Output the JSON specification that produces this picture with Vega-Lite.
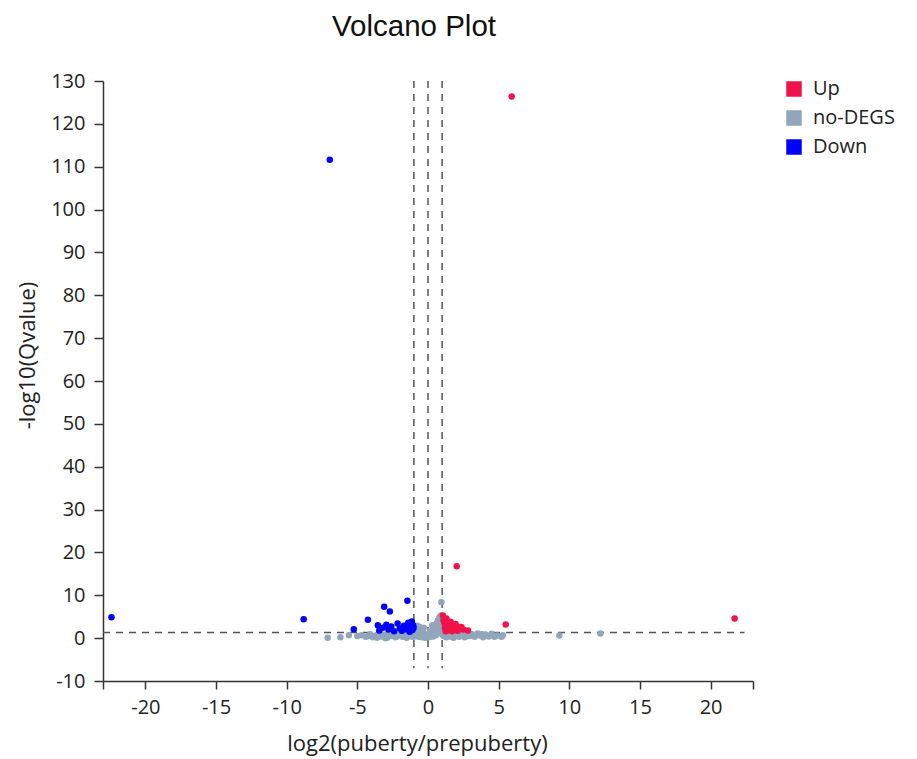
{
  "$schema": "https://vega.github.io/schema/vega-lite/v6.json",
  "width": 650,
  "height": 600,
  "autosize": "none",
  "padding": {"left": 103, "top": 81, "right": 164, "bottom": 78},
  "background": "white",
  "title": {"text": "Volcano Plot", "font": "Liberation Sans", "fontSize": 29.5, "fontWeight": "normal", "color": "#111", "anchor": "middle", "dx": -14, "baseline": "alphabetic", "offset": 6},
  "config": {"view": {"stroke": null}, "font": "Open Sans"},
  "datasets": {
    "pts": [
      {"x": -7.1, "y": 0.1, "g": "no-DEGS"}, {"x": -6.2, "y": 0.2, "g": "no-DEGS"}, {"x": -5.6, "y": 0.7, "g": "no-DEGS"}, {"x": -5.0, "y": 0.5, "g": "no-DEGS"},
      {"x": -4.7, "y": 0.7, "g": "no-DEGS"}, {"x": -4.4, "y": 0.3, "g": "no-DEGS"}, {"x": -4.2, "y": 0.5, "g": "no-DEGS"}, {"x": -4.1, "y": 0.9, "g": "no-DEGS"},
      {"x": -3.9, "y": 0.2, "g": "no-DEGS"}, {"x": -3.7, "y": 0.6, "g": "no-DEGS"}, {"x": -3.6, "y": 0.1, "g": "no-DEGS"}, {"x": -3.5, "y": 1.0, "g": "no-DEGS"},
      {"x": -3.3, "y": 0.4, "g": "no-DEGS"}, {"x": -3.1, "y": 0.8, "g": "no-DEGS"}, {"x": -3.0, "y": 0.0, "g": "no-DEGS"}, {"x": -2.9, "y": 0.1, "g": "no-DEGS"},
      {"x": -2.8, "y": 1.1, "g": "no-DEGS"}, {"x": -2.6, "y": 0.5, "g": "no-DEGS"}, {"x": -2.4, "y": 0.9, "g": "no-DEGS"}, {"x": -2.3, "y": 0.2, "g": "no-DEGS"},
      {"x": -2.2, "y": 0.4, "g": "no-DEGS"}, {"x": -2.1, "y": 1.2, "g": "no-DEGS"}, {"x": -2.0, "y": 0.6, "g": "no-DEGS"}, {"x": -1.9, "y": 0.8, "g": "no-DEGS"},
      {"x": -1.8, "y": 0.3, "g": "no-DEGS"}, {"x": -1.7, "y": 1.0, "g": "no-DEGS"}, {"x": -1.6, "y": 0.7, "g": "no-DEGS"}, {"x": -1.5, "y": 0.1, "g": "no-DEGS"},
      {"x": -1.4, "y": 1.2, "g": "no-DEGS"}, {"x": -1.3, "y": 0.5, "g": "no-DEGS"}, {"x": -1.2, "y": 0.9, "g": "no-DEGS"}, {"x": -1.1, "y": 0.3, "g": "no-DEGS"},
      {"x": -1.05, "y": 1.1, "g": "no-DEGS"}, {"x": -1.0, "y": 0.6, "g": "no-DEGS"}, {"x": -0.95, "y": 0.4, "g": "no-DEGS"}, {"x": -0.9, "y": 1.5, "g": "no-DEGS"},
      {"x": -0.85, "y": 2.2, "g": "no-DEGS"}, {"x": -0.8, "y": 0.8, "g": "no-DEGS"}, {"x": -0.75, "y": 2.9, "g": "no-DEGS"}, {"x": -0.7, "y": 1.2, "g": "no-DEGS"},
      {"x": -0.65, "y": 0.3, "g": "no-DEGS"}, {"x": -0.6, "y": 1.8, "g": "no-DEGS"}, {"x": -0.6, "y": 2.6, "g": "no-DEGS"}, {"x": -0.55, "y": 0.6, "g": "no-DEGS"},
      {"x": -0.5, "y": 1.0, "g": "no-DEGS"}, {"x": -0.45, "y": 0.2, "g": "no-DEGS"}, {"x": -0.4, "y": 0.7, "g": "no-DEGS"}, {"x": -0.35, "y": 1.4, "g": "no-DEGS"},
      {"x": -0.3, "y": 0.4, "g": "no-DEGS"}, {"x": -0.3, "y": 2.4, "g": "no-DEGS"}, {"x": -0.25, "y": 0.9, "g": "no-DEGS"}, {"x": -0.2, "y": 0.1, "g": "no-DEGS"},
      {"x": -0.15, "y": 0.6, "g": "no-DEGS"}, {"x": -0.1, "y": 0.3, "g": "no-DEGS"}, {"x": -0.05, "y": 0.8, "g": "no-DEGS"}, {"x": 0.0, "y": 0.2, "g": "no-DEGS"},
      {"x": 0.05, "y": 0.5, "g": "no-DEGS"}, {"x": 0.1, "y": 0.9, "g": "no-DEGS"}, {"x": 0.15, "y": 0.3, "g": "no-DEGS"}, {"x": 0.15, "y": 1.7, "g": "no-DEGS"},
      {"x": 0.2, "y": 1.3, "g": "no-DEGS"}, {"x": 0.25, "y": 0.6, "g": "no-DEGS"}, {"x": 0.3, "y": 1.8, "g": "no-DEGS"}, {"x": 0.3, "y": 3.0, "g": "no-DEGS"},
      {"x": 0.35, "y": 0.4, "g": "no-DEGS"}, {"x": 0.4, "y": 2.3, "g": "no-DEGS"}, {"x": 0.45, "y": 1.1, "g": "no-DEGS"}, {"x": 0.5, "y": 2.8, "g": "no-DEGS"},
      {"x": 0.5, "y": 1.5, "g": "no-DEGS"}, {"x": 0.55, "y": 0.7, "g": "no-DEGS"}, {"x": 0.6, "y": 3.4, "g": "no-DEGS"}, {"x": 0.65, "y": 1.6, "g": "no-DEGS"},
      {"x": 0.7, "y": 4.1, "g": "no-DEGS"}, {"x": 0.75, "y": 2.5, "g": "no-DEGS"}, {"x": 0.8, "y": 4.8, "g": "no-DEGS"}, {"x": 0.85, "y": 3.3, "g": "no-DEGS"},
      {"x": 0.9, "y": 5.3, "g": "no-DEGS"}, {"x": 0.92, "y": 2.0, "g": "no-DEGS"}, {"x": 0.95, "y": 8.4, "g": "no-DEGS"}, {"x": 0.97, "y": 4.0, "g": "no-DEGS"},
      {"x": 1.0, "y": 0.9, "g": "no-DEGS"}, {"x": 1.1, "y": 0.5, "g": "no-DEGS"}, {"x": 1.2, "y": 1.0, "g": "no-DEGS"}, {"x": 1.3, "y": 0.2, "g": "no-DEGS"},
      {"x": 1.4, "y": 0.8, "g": "no-DEGS"}, {"x": 1.5, "y": 1.2, "g": "no-DEGS"}, {"x": 1.5, "y": 0.5, "g": "no-DEGS"}, {"x": 1.6, "y": 0.4, "g": "no-DEGS"},
      {"x": 1.7, "y": 0.9, "g": "no-DEGS"}, {"x": 1.8, "y": 0.1, "g": "no-DEGS"}, {"x": 1.9, "y": 1.1, "g": "no-DEGS"}, {"x": 2.0, "y": 0.6, "g": "no-DEGS"},
      {"x": 2.1, "y": 1.2, "g": "no-DEGS"}, {"x": 2.2, "y": 0.3, "g": "no-DEGS"}, {"x": 2.3, "y": 1.0, "g": "no-DEGS"}, {"x": 2.5, "y": 0.7, "g": "no-DEGS"},
      {"x": 2.6, "y": 0.2, "g": "no-DEGS"}, {"x": 2.7, "y": 0.8, "g": "no-DEGS"}, {"x": 2.8, "y": 1.2, "g": "no-DEGS"}, {"x": 2.9, "y": 0.5, "g": "no-DEGS"},
      {"x": 3.1, "y": 0.9, "g": "no-DEGS"}, {"x": 3.2, "y": 0.5, "g": "no-DEGS"}, {"x": 3.3, "y": 0.3, "g": "no-DEGS"}, {"x": 3.5, "y": 1.1, "g": "no-DEGS"},
      {"x": 3.7, "y": 0.6, "g": "no-DEGS"}, {"x": 3.8, "y": 0.9, "g": "no-DEGS"}, {"x": 3.9, "y": 0.2, "g": "no-DEGS"}, {"x": 4.1, "y": 0.8, "g": "no-DEGS"},
      {"x": 4.3, "y": 0.4, "g": "no-DEGS"}, {"x": 4.5, "y": 1.0, "g": "no-DEGS"}, {"x": 4.7, "y": 0.3, "g": "no-DEGS"}, {"x": 4.9, "y": 0.6, "g": "no-DEGS"},
      {"x": 5.2, "y": 0.3, "g": "no-DEGS"}, {"x": 5.3, "y": 0.7, "g": "no-DEGS"}, {"x": 9.3, "y": 0.6, "g": "no-DEGS"}, {"x": 12.2, "y": 1.1, "g": "no-DEGS"},
      {"x": -22.4, "y": 4.9, "g": "Down"}, {"x": -8.8, "y": 4.4, "g": "Down"}, {"x": -6.95, "y": 111.6, "g": "Down"}, {"x": -5.25, "y": 2.1, "g": "Down"},
      {"x": -4.25, "y": 4.3, "g": "Down"}, {"x": -3.1, "y": 7.3, "g": "Down"}, {"x": -2.7, "y": 6.2, "g": "Down"}, {"x": -1.46, "y": 8.7, "g": "Down"},
      {"x": -3.55, "y": 3.0, "g": "Down"}, {"x": -3.45, "y": 1.8, "g": "Down"}, {"x": -3.2, "y": 2.4, "g": "Down"}, {"x": -2.95, "y": 3.1, "g": "Down"},
      {"x": -2.8, "y": 2.0, "g": "Down"}, {"x": -2.6, "y": 2.7, "g": "Down"}, {"x": -2.4, "y": 1.6, "g": "Down"}, {"x": -2.15, "y": 3.4, "g": "Down"},
      {"x": -2.0, "y": 2.3, "g": "Down"}, {"x": -1.85, "y": 1.7, "g": "Down"}, {"x": -1.7, "y": 2.9, "g": "Down"}, {"x": -1.55, "y": 2.1, "g": "Down"},
      {"x": -1.4, "y": 3.6, "g": "Down"}, {"x": -1.3, "y": 1.5, "g": "Down"}, {"x": -1.25, "y": 2.6, "g": "Down"}, {"x": -1.15, "y": 3.9, "g": "Down"},
      {"x": -1.1, "y": 1.9, "g": "Down"}, {"x": -1.05, "y": 3.0, "g": "Down"}, {"x": -1.02, "y": 2.4, "g": "Down"}, {"x": -1.2, "y": 3.3, "g": "Down"},
      {"x": 5.92, "y": 126.4, "g": "Up"}, {"x": 2.03, "y": 16.8, "g": "Up"}, {"x": 21.7, "y": 4.6, "g": "Up"}, {"x": 5.5, "y": 3.2, "g": "Up"},
      {"x": 1.05, "y": 5.3, "g": "Up"}, {"x": 1.1, "y": 4.2, "g": "Up"}, {"x": 1.15, "y": 3.6, "g": "Up"}, {"x": 1.2, "y": 2.5, "g": "Up"},
      {"x": 1.3, "y": 4.6, "g": "Up"}, {"x": 1.35, "y": 1.8, "g": "Up"}, {"x": 1.45, "y": 3.1, "g": "Up"}, {"x": 1.5, "y": 2.3, "g": "Up"},
      {"x": 1.6, "y": 3.8, "g": "Up"}, {"x": 1.7, "y": 1.6, "g": "Up"}, {"x": 1.75, "y": 2.8, "g": "Up"}, {"x": 1.85, "y": 2.2, "g": "Up"},
      {"x": 1.95, "y": 3.3, "g": "Up"}, {"x": 2.1, "y": 1.7, "g": "Up"}, {"x": 2.2, "y": 2.6, "g": "Up"}, {"x": 2.36, "y": 2.6, "g": "Up"},
      {"x": 2.5, "y": 2.0, "g": "Up"}, {"x": 2.83, "y": 1.8, "g": "Up"}, {"x": 1.25, "y": 1.6, "g": "Up"}, {"x": 1.4, "y": 2.0, "g": "Up"}
    ],
    "vlines": [{"v": -1}, {"v": 0}, {"v": 1}],
    "hline": [{"x1": -23, "x2": 22.4, "h": 1.3}]
  },
  "layer": [
    {
      "data": {"name": "vlines"},
      "mark": {"type": "rule", "color": "#555", "strokeWidth": 1.5, "strokeDash": [7, 6]},
      "encoding": {
        "x": {"field": "v", "type": "quantitative", "scale": {"domain": [-23, 23]}},
        "y": {"datum": 130, "type": "quantitative", "scale": {"domain": [-10, 130]}},
        "y2": {"datum": -7}
      }
    },
    {
      "data": {"name": "hline"},
      "mark": {"type": "rule", "color": "#555", "strokeWidth": 1.5, "strokeDash": [7, 6]},
      "encoding": {
        "x": {"field": "x1", "type": "quantitative"},
        "x2": {"field": "x2"},
        "y": {"field": "h", "type": "quantitative"}
      }
    },
    {
      "data": {"name": "pts"},
      "mark": {"type": "point", "filled": true, "opacity": 1, "size": 42, "shape": "circle"},
      "encoding": {
        "x": {
          "field": "x", "type": "quantitative",
          "scale": {"domain": [-23, 23], "nice": false, "zero": false},
          "axis": {
            "title": "log2(puberty/prepuberty)",
            "values": [-23, -20, -15, -10, -5, 0, 5, 10, 15, 20, 23],
            "labelExpr": "abs(datum.value) == 23 ? '' : '' + datum.value",
            "grid": false, "domainColor": "#333", "domainWidth": 1.5, "tickColor": "#333", "tickWidth": 1.5, "tickSize": 8,
            "labelFont": "Open Sans", "labelFontSize": 20, "labelColor": "#222", "labelPadding": 8,
            "titleFont": "Open Sans", "titleFontSize": 22, "titleFontWeight": "normal", "titleColor": "#222",
            "titleX": 314, "titleY": 69, "titleBaseline": "alphabetic", "titleAnchor": null
          }
        },
        "y": {
          "field": "y", "type": "quantitative",
          "scale": {"domain": [-10, 130], "nice": false, "zero": false},
          "axis": {
            "title": "-log10(Qvalue)",
            "values": [-10, 0, 10, 20, 30, 40, 50, 60, 70, 80, 90, 100, 110, 120, 130],
            "labelExpr": "'' + datum.value",
            "grid": false, "domainColor": "#333", "domainWidth": 1.5, "tickColor": "#333", "tickWidth": 1.5, "tickSize": 9,
            "labelFont": "Open Sans", "labelFontSize": 20, "labelColor": "#222", "labelPadding": 9,
            "titleFont": "Open Sans", "titleFontSize": 22, "titleFontWeight": "normal", "titleColor": "#222",
            "titleX": -76, "titleY": 274, "titleBaseline": "middle", "titleAngle": -90
          }
        },
        "color": {
          "field": "g", "type": "nominal",
          "scale": {"domain": ["Up", "no-DEGS", "Down"], "range": ["#f0134a", "#91a6ba", "#0000ff"]},
          "legend": {
            "title": null, "orient": "none", "legendX": 681, "legendY": -2,
            "symbolType": "square", "symbolSize": 240, "symbolOpacity": 1, "symbolStrokeWidth": 0,
            "labelFont": "Open Sans", "labelFontSize": 20, "labelColor": "#222", "labelOffset": 9, "rowPadding": 9
          }
        }
      }
    }
  ]
}
